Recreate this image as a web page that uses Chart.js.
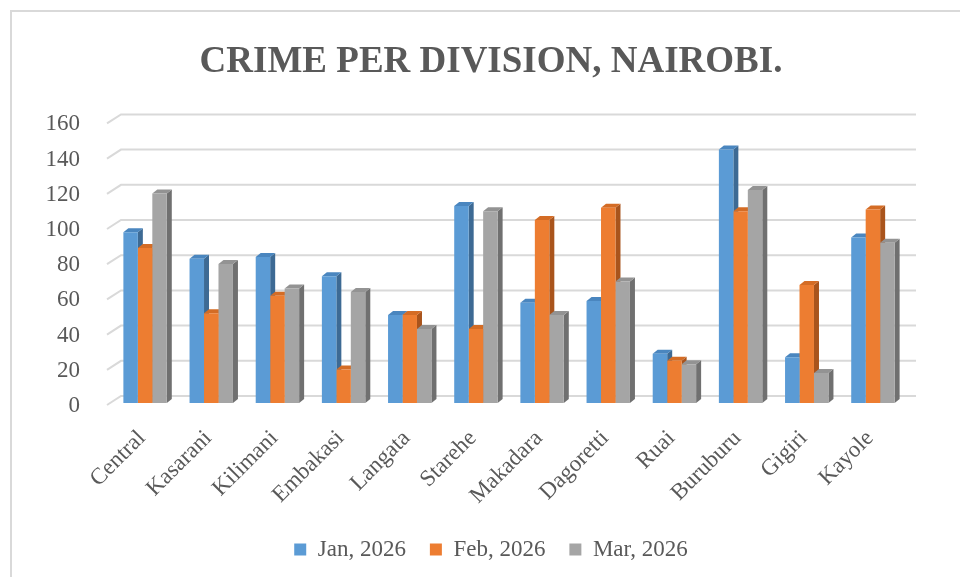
<!DOCTYPE html>
<html>
<head>
<meta charset="utf-8">
<script src="https://cdn.jsdelivr.net/npm/chart.js@4.4.1/dist/chart.umd.min.js"></script>
<style>
  html, body { margin: 0; padding: 0; background: #fff; }
  #wrap { width: 960px; height: 577px; }
</style>
</head>
<body>
<div id="wrap"><canvas id="crimeChart" width="960" height="577"></canvas></div>
<script>
// data
const divisions = ['Central', 'Kasarani', 'Kilimani', 'Embakasi', 'Langata', 'Starehe',
                   'Makadara', 'Dagoretti', 'Ruai', 'Buruburu', 'Gigiri', 'Kayole'];
const seriesNames = ['Jan, 2026', 'Feb, 2026', 'Mar, 2026'];
const jan2026 = [97, 82, 83, 72, 50, 112, 57, 58, 28, 144, 26, 94];
const feb2026 = [88, 51, 61, 19, 50, 42, 104, 111, 24, 109, 67, 110];
const mar2026 = [119, 79, 65, 63, 42, 109, 50, 69, 22, 121, 17, 91];
const yTicks = [0, 20, 40, 60, 80, 100, 120, 140, 160];

const serif = "'Liberation Serif', 'Times New Roman', serif";
const textGrey = '#595959';

// front / top / side shades for the fake 3d columns
const shades = [
    { front: '#5B9BD5', top: '#4A86BF', side: '#3D6A94' },
    { front: '#ED7D31', top: '#D46C25', side: '#A9541C' },
    { front: '#A5A5A5', top: '#939393', side: '#707070' }
];

const frameAndWalls = {
    id: 'frameAndWalls',
    beforeDraw(chart) {
        const ctx = chart.ctx;
        ctx.save();
        ctx.fillStyle = '#fff';
        ctx.fillRect(0, 0, chart.width, chart.height);
        ctx.strokeStyle = '#d9d9d9';
        ctx.lineWidth = 2;
        ctx.strokeRect(11, 11, chart.width + 20, chart.height + 20);
        ctx.restore();
    },
    beforeDatasetsDraw(chart) {
        const ctx = chart.ctx;
        const area = chart.chartArea;
        const yScale = chart.scales.y;
        ctx.save();

        // back wall gridlines with a short diagonal on the side wall
        ctx.strokeStyle = '#d9d9d9';
        ctx.lineWidth = 2;
        yTicks.forEach(v => {
            const y = yScale.getPixelForValue(v);
            ctx.beginPath();
            ctx.moveTo(area.left - 5, y + 2);
            ctx.lineTo(area.left + 9, y - 7);
            ctx.lineTo(area.right + 10, y - 7);
            ctx.stroke();
        });

        // top and right side of every column, before the fronts go on
        const dx = 5, dy = 4;
        chart.data.datasets.forEach((ds, d) => {
            const meta = chart.getDatasetMeta(d);
            meta.data.forEach(bar => {
                const { x, y, base, width } = bar.getProps(['x', 'y', 'base', 'width'], true);
                const l = x - width / 2;
                const r = x + width / 2;

                ctx.fillStyle = shades[d].side;
                ctx.beginPath();
                ctx.moveTo(r, y);
                ctx.lineTo(r + dx, y - dy);
                ctx.lineTo(r + dx, base - dy);
                ctx.lineTo(r, base);
                ctx.closePath();
                ctx.fill();

                ctx.fillStyle = shades[d].top;
                ctx.beginPath();
                ctx.moveTo(l, y);
                ctx.lineTo(l + dx, y - dy);
                ctx.lineTo(r + dx, y - dy);
                ctx.lineTo(r, y);
                ctx.closePath();
                ctx.fill();
            });
        });
        ctx.restore();
    }
};

const ctx = document.getElementById('crimeChart').getContext('2d');
new Chart(ctx, {
    type: 'bar',
    data: {
        labels: divisions,
        datasets: [jan2026, feb2026, mar2026].map((values, i) => ({
            label: seriesNames[i],
            data: values,
            backgroundColor: shades[i].front,
            borderWidth: 0,
            categoryPercentage: 0.656,
            barPercentage: 1.0
        }))
    },
    options: {
        responsive: false,
        animation: false,
        devicePixelRatio: 1,
        layout: { padding: { left: 22, right: 0, top: 0, bottom: 6 } },
        plugins: {
            title: {
                display: true,
                text: 'CRIME PER DIVISION, NAIROBI.',
                color: textGrey,
                font: { family: serif, size: 37, weight: 'bold', lineHeight: 1.2 },
                padding: { top: 40, bottom: 37 }
            },
            legend: {
                position: 'bottom',
                labels: {
                    color: textGrey,
                    font: { family: serif, size: 23 },
                    boxWidth: 12,
                    boxHeight: 12,
                    padding: 24
                }
            },
            tooltip: { enabled: false }
        },
        scales: {
            x: {
                grid: { display: false },
                border: { display: false },
                ticks: {
                    color: textGrey,
                    font: { family: serif, size: 23 },
                    autoSkip: false,
                    maxRotation: 45,
                    minRotation: 45,
                    padding: 14,
                    labelOffset: -3
                },
                afterFit(scale) { scale.height = 111; }
            },
            y: {
                min: 0,
                max: 160,
                grid: { display: false },
                border: { display: false },
                ticks: {
                    stepSize: 20,
                    color: textGrey,
                    font: { family: serif, size: 23 },
                    padding: 24,
                    labelOffset: 3
                },
                afterFit(scale) { scale.width = 90; }
            },
            // empty right-hand axis, only keeps room on the right
            yRight: {
                position: 'right',
                grid: { display: false },
                border: { display: false },
                ticks: { display: false },
                afterFit(scale) { scale.width = 54; }
            }
        }
    },
    plugins: [frameAndWalls]
});
</script>
</body>
</html>
